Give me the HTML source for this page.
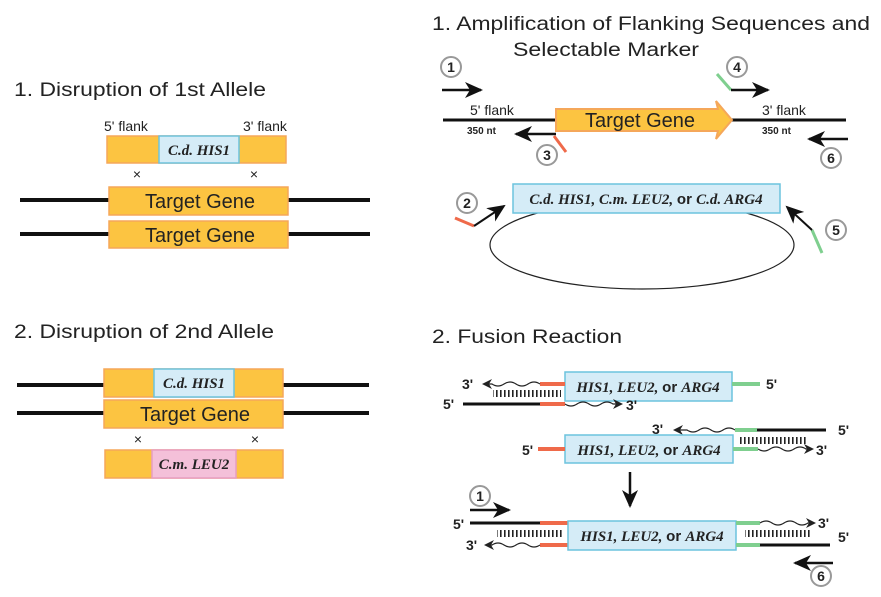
<!DOCTYPE html>
<html><head><meta charset="utf-8"><style>
html,body{margin:0;padding:0;background:#fff}
svg{display:block}
text{font-family:"Liberation Sans",sans-serif;fill:#222}
.t{font-size:19px}
.s{font-size:14px}
.g{font-size:20px}
.i{font-family:"Liberation Serif",serif;font-style:italic;font-weight:bold;font-size:15px}
.b{font-weight:bold;font-size:15px}
.n{font-weight:bold;font-size:10px}
.c{font-weight:bold;font-size:14px}
</style></head><body>
<svg width="881" height="597" viewBox="0 0 881 597" xmlns="http://www.w3.org/2000/svg">
<defs>
<marker id="ah" markerWidth="10" markerHeight="10" refX="8" refY="5" orient="auto" markerUnits="userSpaceOnUse"><path d="M0,0 L10,5 L0,10 L3,5 z" fill="#222"/></marker>
<marker id="big" markerWidth="18" markerHeight="16" refX="16" refY="8" orient="auto" markerUnits="userSpaceOnUse"><path d="M0,0 L18,8 L0,16 L5,8 z" fill="#111"/></marker>
<pattern id="hat" width="4" height="8" patternUnits="userSpaceOnUse"><rect x="0" y="0" width="1.6" height="8" fill="#222"/></pattern>
</defs>

<!-- LEFT PANEL 1 -->
<text class="t" x="14" y="96" textLength="252" lengthAdjust="spacingAndGlyphs">1. Disruption of 1st Allele</text>
<text class="s" x="104" y="131">5' flank</text>
<text class="s" x="243" y="131">3' flank</text>
<rect x="107" y="136" width="179" height="27" fill="#fcc441" stroke="#f5a75a" stroke-width="1.5"/>
<rect x="159" y="136" width="80" height="27" fill="#d5ecf7" stroke="#6cc3de" stroke-width="1.5"/>
<text class="i" x="199" y="155" text-anchor="middle">C.d. HIS1</text>
<text class="s" x="137" y="179" text-anchor="middle">×</text>
<text class="s" x="254" y="179" text-anchor="middle">×</text>
<line x1="20" y1="200" x2="370" y2="200" stroke="#111" stroke-width="4"/>
<line x1="20" y1="234" x2="370" y2="234" stroke="#111" stroke-width="4"/>
<rect x="109" y="187" width="179" height="28" fill="#fcc441" stroke="#f5a75a" stroke-width="1.5"/>
<rect x="109" y="221" width="179" height="27" fill="#fcc441" stroke="#f5a75a" stroke-width="1.5"/>
<text class="g" x="200" y="208" text-anchor="middle">Target Gene</text>
<text class="g" x="200" y="242" text-anchor="middle">Target Gene</text>

<!-- LEFT PANEL 2 -->
<text class="t" x="14" y="338" textLength="260" lengthAdjust="spacingAndGlyphs">2. Disruption of 2nd Allele</text>
<line x1="17" y1="385" x2="369" y2="385" stroke="#111" stroke-width="4"/>
<line x1="17" y1="413" x2="369" y2="413" stroke="#111" stroke-width="4"/>
<rect x="104" y="369" width="179" height="28" fill="#fcc441" stroke="#f5a75a" stroke-width="1.5"/>
<rect x="154" y="369" width="80" height="28" fill="#d5ecf7" stroke="#6cc3de" stroke-width="1.5"/>
<text class="i" x="194" y="388" text-anchor="middle">C.d. HIS1</text>
<rect x="104" y="400" width="179" height="28" fill="#fcc441" stroke="#f5a75a" stroke-width="1.5"/>
<text class="g" x="195" y="421" text-anchor="middle">Target Gene</text>
<text class="s" x="138" y="444" text-anchor="middle">×</text>
<text class="s" x="255" y="444" text-anchor="middle">×</text>
<rect x="105" y="450" width="178" height="28" fill="#fcc441" stroke="#f5a75a" stroke-width="1.5"/>
<rect x="152" y="450" width="84" height="28" fill="#f4c0d9" stroke="#e79dc2" stroke-width="1.5"/>
<text class="i" x="194" y="469" text-anchor="middle">C.m. LEU2</text>

<!-- RIGHT PANEL 1 -->
<text class="t" x="432" y="30" textLength="438" lengthAdjust="spacingAndGlyphs">1. Amplification of Flanking Sequences and</text>
<text class="t" x="513" y="56" textLength="186" lengthAdjust="spacingAndGlyphs">Selectable Marker</text>
<circle cx="451" cy="67" r="10" fill="#fff" stroke="#999" stroke-width="2"/><text class="c" x="451" y="72" text-anchor="middle">1</text>
<line x1="442" y1="90" x2="481" y2="90" stroke="#111" stroke-width="2.5" marker-end="url(#big)"/>
<line x1="443" y1="120" x2="846" y2="120" stroke="#111" stroke-width="3"/>
<path d="M556,109 L718,109 L716,101 L732,120 L716,139 L718,131 L556,131 z" fill="#fcc441" stroke="#f5a75a" stroke-width="2"/>
<text class="g" x="640" y="127" text-anchor="middle">Target Gene</text>
<text class="s" x="470" y="115">5' flank</text>
<text class="n" x="467" y="134">350 nt</text>
<text class="s" x="762" y="115">3' flank</text>
<text class="n" x="762" y="134">350 nt</text>
<line x1="556" y1="134" x2="516" y2="134" stroke="#111" stroke-width="2.5" marker-end="url(#big)"/>
<line x1="554" y1="136" x2="566" y2="152" stroke="#ef6a4a" stroke-width="3"/>
<circle cx="547" cy="155" r="10" fill="#fff" stroke="#999" stroke-width="2"/><text class="c" x="547" y="160" text-anchor="middle">3</text>
<circle cx="737" cy="67" r="10" fill="#fff" stroke="#999" stroke-width="2"/><text class="c" x="737" y="72" text-anchor="middle">4</text>
<line x1="717" y1="74" x2="731" y2="90" stroke="#7fcf8f" stroke-width="3"/>
<line x1="731" y1="90" x2="768" y2="90" stroke="#111" stroke-width="2.5" marker-end="url(#big)"/>
<line x1="848" y1="139" x2="809" y2="139" stroke="#111" stroke-width="2.5" marker-end="url(#big)"/>
<circle cx="831" cy="158" r="10" fill="#fff" stroke="#999" stroke-width="2"/><text class="c" x="831" y="163" text-anchor="middle">6</text>
<ellipse cx="642" cy="245" rx="152" ry="44" fill="none" stroke="#222" stroke-width="1.2"/>
<rect x="513" y="184" width="267" height="29" fill="#d5ecf7" stroke="#6cc3de" stroke-width="1.5"/>
<text x="646" y="204" text-anchor="middle"><tspan class="i">C.d. HIS1, C.m. LEU2, </tspan><tspan class="b">or </tspan><tspan class="i">C.d. ARG4</tspan></text>
<circle cx="467" cy="203" r="10" fill="#fff" stroke="#999" stroke-width="2"/><text class="c" x="467" y="208" text-anchor="middle">2</text>
<line x1="455" y1="218" x2="474" y2="226" stroke="#ef6a4a" stroke-width="3"/>
<line x1="474" y1="226" x2="504" y2="206" stroke="#111" stroke-width="2" marker-end="url(#big)"/>
<circle cx="836" cy="230" r="10" fill="#fff" stroke="#999" stroke-width="2"/><text class="c" x="836" y="235" text-anchor="middle">5</text>
<line x1="812" y1="230" x2="822" y2="253" stroke="#7fcf8f" stroke-width="3"/>
<line x1="812" y1="230" x2="787" y2="207" stroke="#111" stroke-width="2" marker-end="url(#big)"/>

<!-- RIGHT PANEL 2 -->
<text class="t" x="432" y="343" textLength="190" lengthAdjust="spacingAndGlyphs">2. Fusion Reaction</text>
<!-- Row A -->
<rect x="565" y="372" width="167" height="29" fill="#d5ecf7" stroke="#6cc3de" stroke-width="1.5"/>
<text x="648" y="392" text-anchor="middle"><tspan class="i">HIS1, LEU2, </tspan><tspan class="b">or </tspan><tspan class="i">ARG4</tspan></text>
<line x1="540" y1="384" x2="565" y2="384" stroke="#ef6a4a" stroke-width="4"/>
<line x1="732" y1="384" x2="760" y2="384" stroke="#7fcf8f" stroke-width="4"/>
<text class="c" x="766" y="389">5'</text>
<path d="M540,384 q-6,-4 -12,0 t-12,0 t-12,0 t-12,0 l-8,0" fill="none" stroke="#222" stroke-width="1.2" marker-end="url(#ah)"/>
<text class="c" x="462" y="389">3'</text>
<rect x="493" y="390" width="68" height="7" fill="url(#hat)"/>
<text class="c" x="443" y="409">5'</text>
<line x1="463" y1="404" x2="540" y2="404" stroke="#111" stroke-width="3"/>
<line x1="540" y1="404" x2="565" y2="404" stroke="#ef6a4a" stroke-width="4"/>
<path d="M565,404 q6,4 12,0 t12,0 t12,0 t12,0 l8,0" fill="none" stroke="#222" stroke-width="1.2" marker-end="url(#ah)"/>
<text class="c" x="626" y="410">3'</text>
<!-- Row B -->
<text class="c" x="652" y="434">3'</text>
<path d="M735,430 q-6,-4 -12,0 t-12,0 t-12,0 t-12,0 l-12,0" fill="none" stroke="#222" stroke-width="1.2" marker-end="url(#ah)"/>
<line x1="735" y1="430" x2="757" y2="430" stroke="#7fcf8f" stroke-width="4"/>
<line x1="757" y1="430" x2="826" y2="430" stroke="#111" stroke-width="3"/>
<text class="c" x="838" y="435">5'</text>
<rect x="740" y="437" width="68" height="7" fill="url(#hat)"/>
<rect x="565" y="435" width="168" height="28" fill="#d5ecf7" stroke="#6cc3de" stroke-width="1.5"/>
<text x="649" y="455" text-anchor="middle"><tspan class="i">HIS1, LEU2, </tspan><tspan class="b">or </tspan><tspan class="i">ARG4</tspan></text>
<text class="c" x="522" y="455">5'</text>
<line x1="538" y1="449" x2="565" y2="449" stroke="#ef6a4a" stroke-width="4"/>
<line x1="733" y1="449" x2="758" y2="449" stroke="#7fcf8f" stroke-width="4"/>
<path d="M758,449 q6,4 12,0 t12,0 t12,0 t12,0 l6,0" fill="none" stroke="#222" stroke-width="1.2" marker-end="url(#ah)"/>
<text class="c" x="816" y="455">3'</text>
<line x1="630" y1="472" x2="630" y2="506" stroke="#111" stroke-width="2.5" marker-end="url(#big)"/>
<!-- Row C -->
<circle cx="480" cy="496" r="10" fill="#fff" stroke="#999" stroke-width="2"/><text class="c" x="480" y="501" text-anchor="middle">1</text>
<line x1="470" y1="510" x2="509" y2="510" stroke="#111" stroke-width="2.5" marker-end="url(#big)"/>
<text class="c" x="453" y="529">5'</text>
<line x1="470" y1="523" x2="540" y2="523" stroke="#111" stroke-width="3"/>
<line x1="540" y1="523" x2="568" y2="523" stroke="#ef6a4a" stroke-width="4"/>
<line x1="540" y1="545" x2="568" y2="545" stroke="#ef6a4a" stroke-width="4"/>
<rect x="497" y="530" width="66" height="7" fill="url(#hat)"/>
<path d="M540,545 q-6,4 -12,0 t-12,0 t-12,0 t-12,0 l-6,0" fill="none" stroke="#222" stroke-width="1.2" marker-end="url(#ah)"/>
<text class="c" x="466" y="550">3'</text>
<rect x="568" y="521" width="168" height="29" fill="#d5ecf7" stroke="#6cc3de" stroke-width="1.5"/>
<text x="652" y="541" text-anchor="middle"><tspan class="i">HIS1, LEU2, </tspan><tspan class="b">or </tspan><tspan class="i">ARG4</tspan></text>
<line x1="736" y1="523" x2="760" y2="523" stroke="#7fcf8f" stroke-width="4"/>
<line x1="736" y1="545" x2="760" y2="545" stroke="#7fcf8f" stroke-width="4"/>
<path d="M760,523 q6,-4 12,0 t12,0 t12,0 t12,0 l6,0" fill="none" stroke="#222" stroke-width="1.2" marker-end="url(#ah)"/>
<text class="c" x="818" y="528">3'</text>
<rect x="745" y="530" width="65" height="7" fill="url(#hat)"/>
<line x1="760" y1="545" x2="830" y2="545" stroke="#111" stroke-width="3"/>
<text class="c" x="838" y="542">5'</text>
<line x1="833" y1="563" x2="795" y2="563" stroke="#111" stroke-width="2.5" marker-end="url(#big)"/>
<circle cx="821" cy="576" r="10" fill="#fff" stroke="#999" stroke-width="2"/><text class="c" x="821" y="581" text-anchor="middle">6</text>
</svg>
</body></html>
